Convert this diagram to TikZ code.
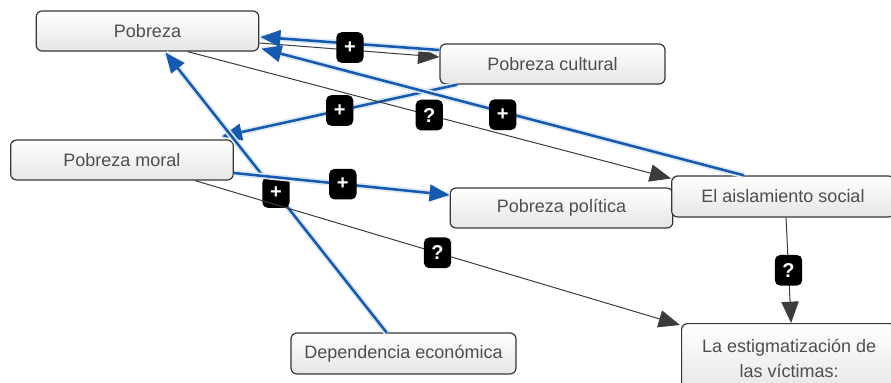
\documentclass[tikz,border=0pt]{standalone}
\usepackage{fontspec}
\setmainfont{Liberation Sans}
\usetikzlibrary{calc,arrows.meta}
\definecolor{lnblue}{RGB}{22,90,176}
\definecolor{glowblue}{RGB}{222,233,247}
\definecolor{txtgray}{RGB}{78,78,78}
\definecolor{lngray}{RGB}{60,60,60}
\definecolor{boxedge}{RGB}{55,55,55}
\tikzset{
  concept/.style={draw=boxedge, line width=0.9pt, rounded corners=4.5pt,
    top color=white, bottom color=black!10, text=txtgray,
    minimum width=167pt, minimum height=30pt, inner sep=0pt,
    font=\fontsize{13.5}{18.75}\selectfont},
  lbl/.style={fill=black, rounded corners=4pt, text=white,
    minimum width=20.5pt, minimum height=23pt, inner sep=0pt,
    font=\fontsize{15}{17}\selectfont\bfseries},
  grayline/.style={draw=lngray, line width=0.75pt,
    -{Triangle[length=16pt,width=13pt]}},
  blueline/.style={draw=lnblue, line width=1.9pt,
    preaction={draw=glowblue, line width=4.5pt, arrows=-},
    -{Triangle[length=15pt,width=12.5pt]}},
}
\begin{document}
\begin{tikzpicture}[x=0.75pt,y=-0.75pt]
\clip (0,0) rectangle (891,382);
\fill[white] (0,0) rectangle (891,382);

\node[concept] (pob) at (147.5,31) {Pobreza};
\node[concept, minimum width=168.75pt] (cult) at (552.5,64) {Pobreza cultural};
\node[concept] (moral) at (122,160) {Pobreza moral};
\node[concept] (pol) at (561.5,208) {\raisebox{-1.5pt}{Pobreza política}};
\node[concept, minimum height=30.75pt] (aisl) at (783,196.5) {El aislamiento social};
\node[concept, minimum width=168.75pt, minimum height=30.75pt] (dep) at (403.5,353.5) {Dependencia económica};
\node[concept, minimum width=161.25pt, minimum height=52.5pt, align=center, anchor=north west] (est) at (681,323) {La estigmatización de\\las víctimas:};

% connectors
\draw[grayline] ($(pob.east)+(0,12)$) -- ($(cult.west)+(0,-7)$);
\draw[blueline] ($(cult.west)+(0,-14)$) -- node[lbl, pos=0.5, yshift=-3pt] (l1) {+} ($(pob.east)+(1,6)$);
\draw[blueline] ($(cult.south west)+(18,0)$) -- node[lbl, pos=0.5] (l2) {+} ($(moral.north east)+(-12,-3)$);
\draw[grayline] ($(pob.south)+(40,0)$) -- node[lbl, pos=0.5] (l3) {?} ($(aisl.west)+(0,-18)$);
\draw[blueline] ($(aisl.north west)+(73,0)$) -- node[lbl, pos=0.5, yshift=-2pt] (l4) {+} ($(pob.south east)+(2,-3)$);
\draw[blueline] ($(dep.north)+(-17,0)$) -- node[lbl, pos=0.5] (l5) {+} ($(pob.south)+(18,1)$);
\draw[blueline] ($(moral.east)+(0,13)$) -- node[lbl, pos=0.505] (l6) {+} ($(pol.west)+(0,-13)$);
\draw[grayline] ($(moral.south)+(73,0)$) -- node[lbl, pos=0.5] (l7) {?} ($(est.north west)+(-1,2)$);
\draw[grayline] ($(aisl.south)+(3,0)$) -- node[lbl, pos=0.5] (l8) {?} ($(est.north)+(2,0)$);
\end{tikzpicture}
\end{document}
